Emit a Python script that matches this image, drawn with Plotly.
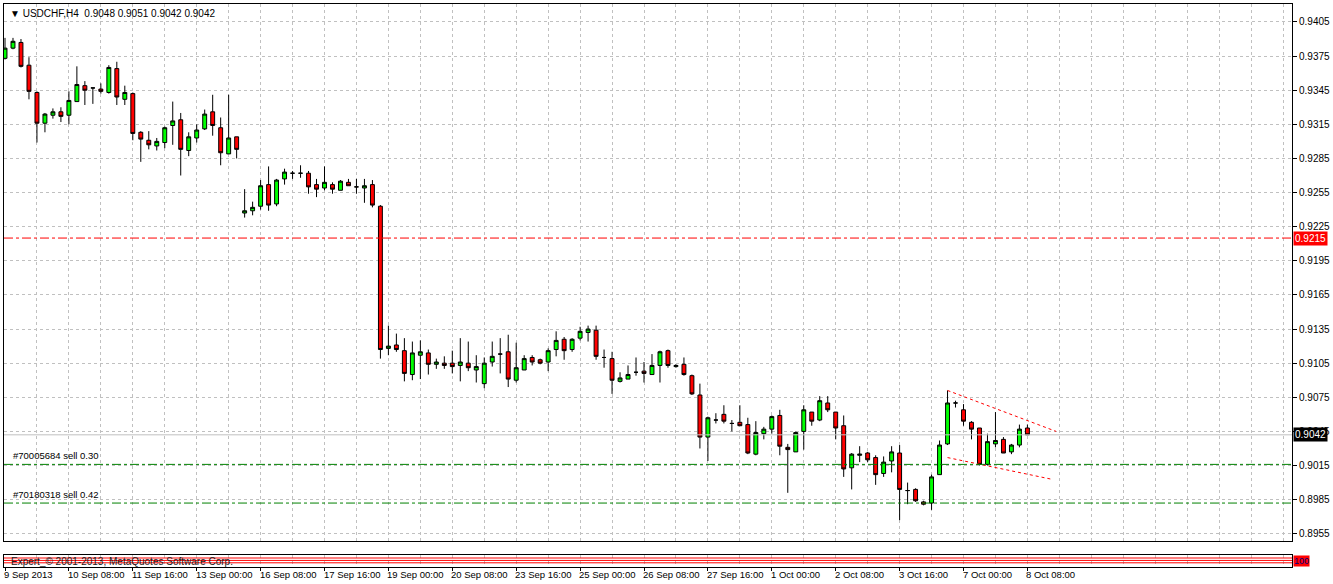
import plotly.graph_objects as go

# H4 bars, 9 Sep 2013 00:00 .. 8 Oct 2013 08:00 (bar index = position on chart)
opens = [0.9373, 0.9382, 0.9387, 0.9367, 0.9343, 0.9316, 0.9323, 0.9326, 0.9323, 0.9335,
         0.9349, 0.9347, 0.9346, 0.9343, 0.9364, 0.9337, 0.9342, 0.9308, 0.9301, 0.9296,
         0.9299, 0.9314, 0.9319, 0.9292, 0.9303, 0.9311, 0.9326, 0.9312, 0.9289, 0.9304,
         0.9237, 0.9239, 0.9243, 0.9262, 0.9245, 0.9267, 0.9272, 0.9272, 0.9272, 0.9262,
         0.9259, 0.9262, 0.9257, 0.9264, 0.9260, 0.9259, 0.9262, 0.9243, 0.9118, 0.9121,
         0.9116, 0.9095, 0.9112, 0.9114, 0.9104, 0.9105, 0.9105, 0.9103, 0.9105, 0.9099,
         0.9087, 0.9106, 0.9113, 0.9115, 0.9090, 0.9099, 0.9110, 0.9108, 0.9106, 0.9117,
         0.9126, 0.9117, 0.9127, 0.9132, 0.9134, 0.9110, 0.9109, 0.9089, 0.9091, 0.9097,
         0.9098, 0.9095, 0.9103, 0.9116, 0.9102, 0.9104, 0.9094, 0.9077, 0.9040, 0.9055,
         0.9060, 0.9052, 0.9053, 0.9051, 0.9025, 0.9043, 0.9047, 0.9059, 0.9031, 0.9027,
         0.9045, 0.9062, 0.9055, 0.9070, 0.9062, 0.9050, 0.9013, 0.9024, 0.9026, 0.9022,
         0.9008, 0.9019, 0.9026, 0.8993, 0.8994, 0.8983, 0.8982, 0.9007, 0.9034, 0.9070,
         0.9064, 0.9053, 0.9048, 0.9016, 0.9034, 0.9038, 0.9027, 0.9033, 0.9048]
highs = [0.9391, 0.9391, 0.9390, 0.9374, 0.9344, 0.9325, 0.9329, 0.9330, 0.9344, 0.9366,
         0.9353, 0.9347, 0.9351, 0.9367, 0.9370, 0.9349, 0.9343, 0.9309, 0.9309, 0.9303,
         0.9313, 0.9335, 0.9325, 0.9308, 0.9315, 0.9328, 0.9341, 0.9321, 0.9341, 0.9304,
         0.9258, 0.9247, 0.9266, 0.9278, 0.9267, 0.9276, 0.9274, 0.9279, 0.9274, 0.9267,
         0.9278, 0.9264, 0.9266, 0.9267, 0.9267, 0.9267, 0.9266, 0.9244, 0.9138, 0.9131,
         0.9127, 0.9124, 0.9125, 0.9117, 0.9109, 0.9111, 0.9116, 0.9127, 0.9124, 0.9112,
         0.9110, 0.9124, 0.9127, 0.9130, 0.9123, 0.9112, 0.9112, 0.9109, 0.9118, 0.9133,
         0.9128, 0.9127, 0.9137, 0.9138, 0.9138, 0.9117, 0.9115, 0.9097, 0.9103, 0.9110,
         0.9106, 0.9113, 0.9116, 0.9117, 0.9104, 0.9110, 0.9095, 0.9087, 0.9058, 0.9061,
         0.9068, 0.9055, 0.9068, 0.9057, 0.9054, 0.9049, 0.9059, 0.9064, 0.9034, 0.9045,
         0.9068, 0.9062, 0.9076, 0.9076, 0.9062, 0.9059, 0.9026, 0.9032, 0.9027, 0.9024,
         0.9023, 0.9032, 0.9033, 0.9000, 0.8995, 0.8984, 0.9007, 0.9037, 0.9081, 0.9072,
         0.9069, 0.9054, 0.9048, 0.9043, 0.9062, 0.9040, 0.9034, 0.9051, 0.9051]
lows = [0.9372, 0.9381, 0.9365, 0.9337, 0.9299, 0.9308, 0.9320, 0.9317, 0.9315, 0.9335,
        0.9332, 0.9333, 0.9342, 0.9342, 0.9332, 0.9332, 0.9301, 0.9282, 0.9293, 0.9292,
        0.9294, 0.9297, 0.9270, 0.9287, 0.9299, 0.9310, 0.9305, 0.9279, 0.9289, 0.9285,
        0.9233, 0.9235, 0.9240, 0.9239, 0.9243, 0.9262, 0.9267, 0.9268, 0.9254, 0.9251,
        0.9257, 0.9254, 0.9257, 0.9261, 0.9254, 0.9246, 0.9242, 0.9109, 0.9112, 0.9115,
        0.9089, 0.9090, 0.9091, 0.9095, 0.9100, 0.9100, 0.9096, 0.9089, 0.9098, 0.9088,
        0.9083, 0.9102, 0.9096, 0.9084, 0.9088, 0.9099, 0.9103, 0.9104, 0.9098, 0.9111,
        0.9108, 0.9115, 0.9125, 0.9124, 0.9108, 0.9101, 0.9078, 0.9088, 0.9091, 0.9094,
        0.9088, 0.9095, 0.9088, 0.9101, 0.9101, 0.9094, 0.9077, 0.9030, 0.9019, 0.9052,
        0.9052, 0.9045, 0.9050, 0.9025, 0.9024, 0.9038, 0.9043, 0.9024, 0.8991, 0.9027,
        0.9029, 0.9050, 0.9054, 0.9062, 0.9038, 0.9005, 0.8994, 0.9018, 0.9018, 0.8998,
        0.9005, 0.9009, 0.8967, 0.8981, 0.8983, 0.8980, 0.8976, 0.9007, 0.9033, 0.9066,
        0.9050, 0.9038, 0.9015, 0.9015, 0.9031, 0.9026, 0.9025, 0.9031, 0.9042]
closes = [0.9382, 0.9388, 0.9366, 0.9344, 0.9316, 0.9324, 0.9326, 0.9322, 0.9336, 0.9350,
          0.9345, 0.9347, 0.9344, 0.9365, 0.9339, 0.9343, 0.9307, 0.9302, 0.9297, 0.9300,
          0.9312, 0.9318, 0.9293, 0.9304, 0.9310, 0.9324, 0.9314, 0.9290, 0.9303, 0.9293,
          0.9239, 0.9242, 0.9261, 0.9244, 0.9266, 0.9273, 0.9272, 0.9272, 0.9260, 0.9258,
          0.9264, 0.9258, 0.9265, 0.9261, 0.9260, 0.9261, 0.9244, 0.9117, 0.9120, 0.9117,
          0.9096, 0.9114, 0.9115, 0.9104, 0.9106, 0.9103, 0.9102, 0.9106, 0.9101, 0.9102,
          0.9105, 0.9111, 0.9113, 0.9091, 0.9101, 0.9109, 0.9106, 0.9105, 0.9116, 0.9125,
          0.9116, 0.9126, 0.9133, 0.9135, 0.9111, 0.9110, 0.9090, 0.9092, 0.9095, 0.9097,
          0.9096, 0.9103, 0.9115, 0.9103, 0.9103, 0.9095, 0.9078, 0.9040, 0.9057, 0.9055,
          0.9054, 0.9052, 0.9050, 0.9026, 0.9044, 0.9047, 0.9058, 0.9032, 0.9029, 0.9044,
          0.9064, 0.9054, 0.9072, 0.9064, 0.9048, 0.9012, 0.9025, 0.9025, 0.9020, 0.9007,
          0.9018, 0.9027, 0.8994, 0.8993, 0.8984, 0.8981, 0.9005, 0.9033, 0.9070, 0.9070,
          0.9054, 0.9047, 0.9016, 0.9036, 0.9037, 0.9026, 0.9033, 0.9047, 0.9042]

date_bars = [0, 8, 16, 24, 32, 40, 48, 56, 64, 72, 80, 88, 96, 104, 112, 120, 128]
date_labels = ["9 Sep 2013", "10 Sep 08:00", "11 Sep 16:00", "13 Sep 00:00", "16 Sep 08:00",
               "17 Sep 16:00", "19 Sep 00:00", "20 Sep 08:00", "23 Sep 16:00", "25 Sep 00:00",
               "26 Sep 08:00", "27 Sep 16:00", "1 Oct 00:00", "2 Oct 08:00", "3 Oct 16:00",
               "7 Oct 00:00", "8 Oct 08:00"]
price_ticks = [0.8955, 0.8985, 0.9015, 0.9045, 0.9075, 0.9105, 0.9135, 0.9165, 0.9195,
               0.9225, 0.9255, 0.9285, 0.9315, 0.9345, 0.9375, 0.9405]

# objects on the chart
alert_level = 0.9215
current_price = 0.9042
orders = ["#70005684 sell 0.30", "#70180318 sell 0.42"]
order_prices = [0.9016, 0.8982]
upper_x = [118, 131.6]
upper_y = [0.9081, 0.9045]
lower_x = [118, 131]
lower_y = [0.9022, 0.9003]
indicator_levels = [70, 50, 30]

bars = list(range(len(opens)))
font = "Liberation Sans"
grid = "#C0C0C0"

fig = go.Figure()
fig.add_trace(go.Candlestick(
    x=bars, open=opens, high=highs, low=lows, close=closes,
    increasing=dict(line=dict(color="black", width=1), fillcolor="#00FF00"),
    decreasing=dict(line=dict(color="black", width=1), fillcolor="#FF0000"),
    whiskerwidth=0, showlegend=False, hoverinfo="skip"))

# sloping triangle lines
fig.add_trace(go.Scatter(x=upper_x, y=upper_y, mode="lines",
                         line=dict(color="red", width=1, dash="dot"), showlegend=False))
fig.add_trace(go.Scatter(x=lower_x, y=lower_y, mode="lines",
                         line=dict(color="red", width=1, dash="dot"), showlegend=False))

# horizontal lines
fig.add_hline(y=alert_level, line=dict(color="red", width=1, dash="dashdot"))
fig.add_hline(y=current_price, line=dict(color="#C0C0C0", width=1))
for name, p in zip(orders, order_prices):
    fig.add_hline(y=p, line=dict(color="green", width=1, dash="dashdot"))
    fig.add_annotation(x=0.75, y=p, xref="x", yref="y", text=name, showarrow=False,
                       xanchor="left", yanchor="bottom", yshift=1,
                       font=dict(family=font, size=9.5, color="black"))

# indicator window levels
for lv in indicator_levels:
    fig.add_shape(type="line", xref="x3 domain", yref="y3", x0=0, x1=1, y0=lv, y1=lv,
                  line=dict(color="red", width=1))

# price boxes on the axis
fig.add_annotation(x=1, y=alert_level, xref="paper", yref="y", text="0.9215", showarrow=False,
                   xanchor="left", xshift=1, bgcolor="red", borderpad=1,
                   font=dict(family=font, size=10, color="white"))
fig.add_annotation(x=1, y=current_price, xref="paper", yref="y", text="0.9042", showarrow=False,
                   xanchor="left", xshift=1, bgcolor="black", borderpad=1,
                   font=dict(family=font, size=10, color="white"))
fig.add_annotation(x=1, y=0.5, xref="paper", yref="y3 domain", text="100", showarrow=False,
                   xanchor="left", xshift=1, bgcolor="red", borderpad=0,
                   font=dict(family=font, size=9, color="#000080"))

# title
fig.add_annotation(x=0, y=1, xref="paper", yref="paper", text="▼ USDCHF,H4  0.9048 0.9051 0.9042 0.9042",
                   showarrow=False, xanchor="left", yanchor="top", xshift=4, yshift=-2,
                   font=dict(family=font, size=10, color="black"))
fig.add_annotation(x=0, y=0.5, xref="paper", yref="y3 domain",
                   text="Expert_© 2001-2013, MetaQuotes Software Corp.", showarrow=False,
                   xanchor="left", xshift=5, font=dict(family=font, size=10, color="#202020"))

# date labels start at their bar, as in the terminal
for b, lab in zip(date_bars, date_labels):
    fig.add_annotation(x=b, y=0, xref="x3", yref="paper", text=lab, showarrow=False,
                       xanchor="left", yanchor="top", xshift=-3, yshift=0,
                       font=dict(family=font, size=9.5, color="black"))

xcommon = dict(range=[-0.125, 161.125], showline=True, mirror=True, linecolor="black",
               linewidth=1, tickvals=date_bars, showgrid=True, gridcolor=grid,
               griddash="3px,3px", gridwidth=1, zeroline=False, showticklabels=False,
               minor=dict(dtick=4, tick0=0, showgrid=True, gridcolor=grid, griddash="3px,3px"),
               rangeslider=dict(visible=False))
ycommon = dict(showline=True, mirror=True, linecolor="black", linewidth=1, zeroline=False,
               side="right")

fig.update_layout(
    width=1333, height=584,
    margin=dict(l=3, r=40, t=3, b=17),
    paper_bgcolor="white", plot_bgcolor="white",
    showlegend=False,
    xaxis=dict(**xcommon, anchor="y", ticks=""),
    xaxis2=dict(**xcommon, anchor="y2", matches="x", ticks=""),
    xaxis3=dict(**xcommon, anchor="y3", matches="x", ticks="outside", ticklen=3, tickcolor="black"),
    yaxis=dict(**ycommon, domain=[0.0461, 1], range=[0.89486, 0.94208], tickvals=price_ticks,
               tickformat=".4f", ticks="outside", ticklen=4, tickcolor="black",
               showgrid=True, gridcolor=grid, griddash="3px,3px",
               tickfont=dict(family=font, size=10, color="black")),
    yaxis2=dict(**ycommon, domain=[0.0266, 0.0443], range=[0, 1], showgrid=False,
                showticklabels=False, ticks=""),
    yaxis3=dict(**ycommon, domain=[0, 0.0213], range=[-5, 95], showgrid=False,
                showticklabels=False, ticks=""),
)

# the page has a default 8px body margin; drop it so the chart sits at the window corner
fig.write_html("out.html", config={"displayModeBar": False},
               post_script="document.body.style.margin='0';document.body.style.overflow='hidden';")
